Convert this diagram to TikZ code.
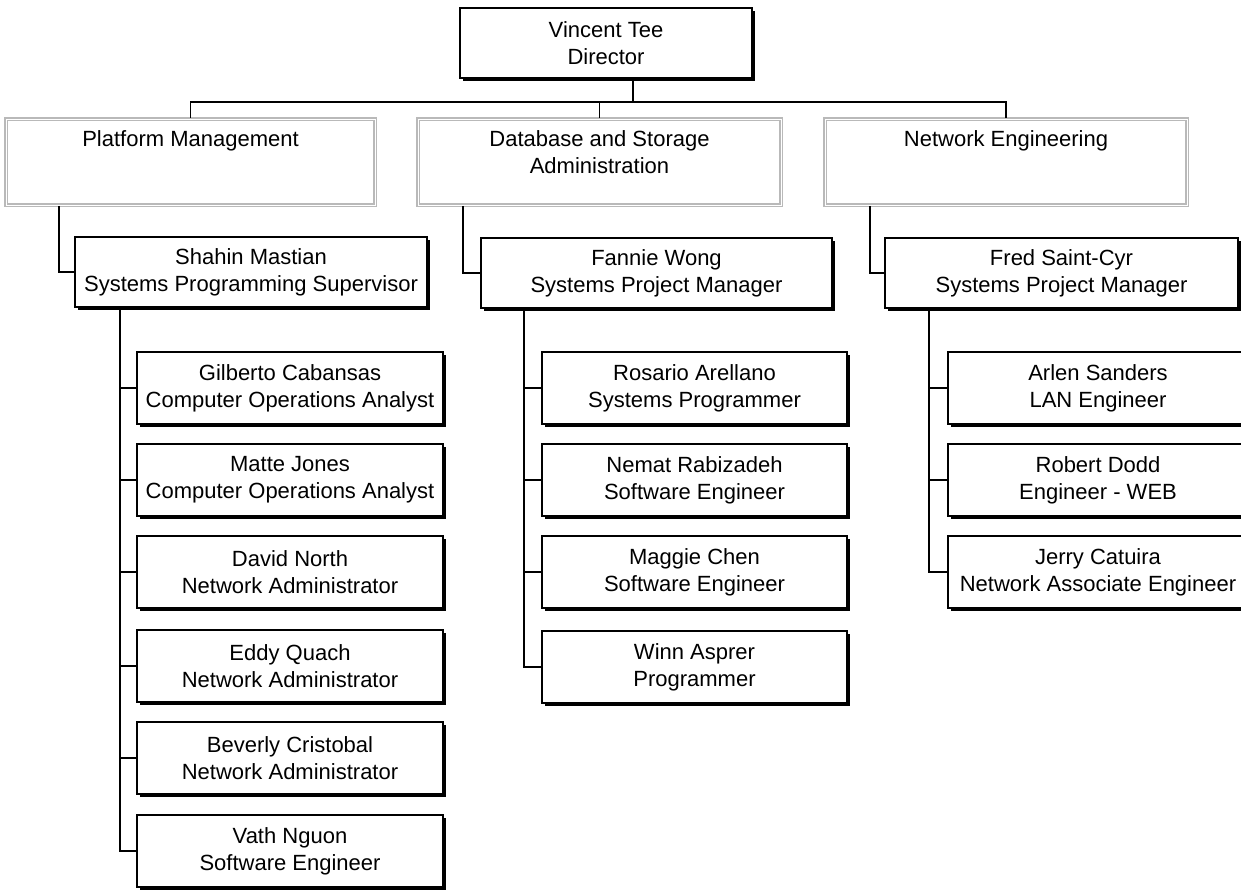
\documentclass[tikz,border=0pt]{standalone}
\usepackage{fontspec}
\setmainfont{Liberation Sans}
\usetikzlibrary{shadows}
\begin{document}
\begin{tikzpicture}[x=1pt,y=-1pt,
  every node/.style={font=\fontsize{22}{27}\selectfont},
  person/.style={draw=black, line width=1.6pt, fill=white, align=center, inner sep=0pt,
     drop shadow={shadow xshift=3.2pt, shadow yshift=-3.2pt, opacity=1, fill=black}},
  boss/.style={person, minimum width=352pt, minimum height=70pt},
  staffL/.style={person, minimum width=306pt, minimum height=72pt},
  staffM/.style={person, minimum width=305pt, minimum height=72pt},
  staffR/.style={person, minimum width=300pt, minimum height=72pt},
  dept/.style={draw=gray!55, line width=1.7pt, double=white, double distance=1pt,
     inner xsep=0pt, inner ysep=12pt, fill=white, minimum height=86pt},
  link/.style={draw=black, line width=1.8pt}]
\useasboundingbox (0,0) rectangle (1241,891);

% director
\node[person, minimum width=292pt, minimum height=70pt] (dir) at (606,43) {Vincent Tee\\Director};

% departments
\node[dept, minimum width=369pt] (plat) at (190.5,162) {\parbox[c][62pt][t]{340pt}{\centering Platform Management}};
\node[dept, minimum width=363pt] (db) at (599.5,162) {\parbox[c][62pt][t]{340pt}{\centering Database and Storage\\Administration}};
\node[dept, minimum width=362pt] (ne) at (1006,162) {\parbox[c][62pt][t]{340pt}{\centering Network Engineering}};

% managers
\node[boss] (shah) at (251,272) {Shahin Mastian\\Systems Programming Supervisor};
\node[boss, minimum width=351pt] (fan) at (656.5,273) {Fannie Wong\\Systems Project Manager};
\node[boss, minimum width=353pt] (fred) at (1061.5,273) {Fred Saint-Cyr\\Systems Project Manager};

% left staff
\node[staffL] (l1) at (290,388) {Gilberto Cabansas\\Computer Operations Analyst};
\node[staffL] (l2) at (290,480) {Matte Jones\\Computer Operations Analyst};
\node[staffL] (l3) at (290,572) {David North\\Network Administrator};
\node[staffL] (l4) at (290,666) {Eddy Quach\\Network Administrator};
\node[staffL] (l5) at (290,758) {Beverly Cristobal\\Network Administrator};
\node[staffL] (l6) at (290,851) {Vath Nguon\\Software Engineer};

% middle staff
\node[staffM] (m1) at (694.5,388) {Rosario Arellano\\Systems Programmer};
\node[staffM] (m2) at (694.5,480) {Nemat Rabizadeh\\Software Engineer};
\node[staffM] (m3) at (694.5,572) {Maggie Chen\\Software Engineer};
\node[staffM] (m4) at (694.5,667) {Winn Asprer\\Programmer};

% right staff
\node[staffR] (r1) at (1098,388) {Arlen Sanders\\LAN Engineer};
\node[staffR] (r2) at (1098,480) {Robert Dodd\\Engineer - WEB};
\node[staffR] (r3) at (1098,572) {Jerry Catuira\\Network Associate Engineer};

% connectors
\coordinate (bus) at (633,102);
\draw[link] (dir.south -| bus) -- (bus);
\draw[link] (bus) -| (plat.north);
\draw[link] (bus) -| (db.north);
\draw[link] (bus) -| (ne.north);

\draw[link] ([xshift=54pt]plat.south west) |- (shah.west);
\draw[link] ([xshift=46pt]db.south west) |- (fan.west);
\draw[link] ([xshift=46pt]ne.south west) |- (fred.west);

\foreach \e in {l1,l2,l3,l4,l5,l6}
  \draw[link] ([xshift=46pt]shah.south west) |- (\e.west);
\foreach \e in {m1,m2,m3,m4}
  \draw[link] ([xshift=44pt]fan.south west) |- (\e.west);
\foreach \e in {r1,r2,r3}
  \draw[link] ([xshift=45pt]fred.south west) |- (\e.west);
\end{tikzpicture}
\end{document}
